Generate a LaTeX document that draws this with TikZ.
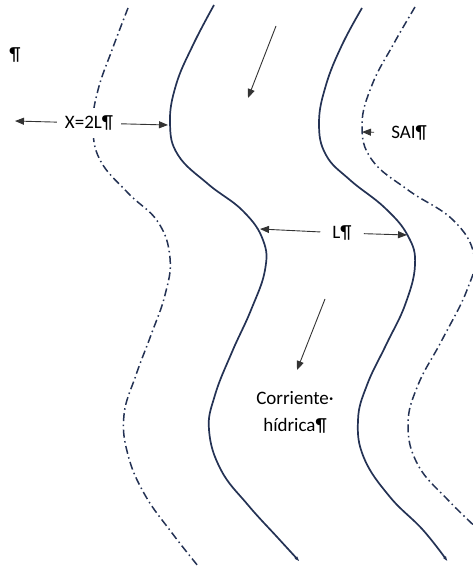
\documentclass[tikz,border=0pt]{standalone}
\usepackage{fontspec}
\setmainfont{Carlito}
\usetikzlibrary{arrows.meta}

\begin{document}
\begin{tikzpicture}[x=1pt,y=-1pt,
	bank/.style={draw=riverblue,line width=1.7pt,-{Latex[length=6pt,width=3.5pt]}},
	sai/.style={draw=riverblue,line width=1.5pt,dash pattern=on 8pt off 3.5pt on 1.5pt off 3.5pt},
	pointer/.style={draw=black!80,line width=0.9pt,-{Triangle[length=9pt,width=7pt]}},
	label/.style={font=\fontsize{19}{27}\selectfont,inner sep=0pt}]
	\definecolor{riverblue}{RGB}{36,50,84}
	\useasboundingbox (0,0) rectangle (472,569);
	% dash-dot outlines
	\draw[sai] plot[smooth,tension=0.7] coordinates {(128,8) (112,50) (98,90) (93,125) (100,160) (128,193) (158,222) (170,258) (165,295) (151,335) (136,375) (124,415) (128,455) (145,495) (172,533) (198,566)};
	\draw[sai] plot[smooth,tension=0.7] coordinates {(415,7) (393,45) (372,85) (362,125) (372,160) (408,190) (453,220) (474,255) (467,290) (442,340) (418,385) (408,425) (418,465) (448,500) (482,533)};
	% river banks
	\draw[bank] plot[smooth,tension=0.7] coordinates {(214,5) (193,45) (176,85) (170,123) (178,155) (208,184) (243,211) (263,240) (265,270) (251,310) (232,352) (215,395) (209,430) (221,470) (248,505) (278,538) (300,562)};
	\draw[bank] plot[smooth,tension=0.7] coordinates {(362,8) (342,45) (326,85) (319,123) (326,155) (350,180) (385,208) (408,236) (415,265) (405,305) (386,345) (367,385) (358,420) (364,458) (390,497) (423,530) (448,562)};
	% texts
	\node (pil)[label] at (15,55) {¶};
	\node (x2l)[label,fill=white,inner sep=8pt] at (89,123) {X=2L¶};
	\node (sai)[label,inner sep=3pt] at (409,133) {SAI¶};
	\node (len)[label,inner sep=12pt] at (342,233) {L¶};
	\node (flow)[label,align=center] at (295,412) {Corriente·\\hídrica¶};
	% arrow ends
	\coordinate (xout) at (15,121);
	\coordinate (xbank) at (168,125);
	\coordinate (saitip) at (362,132);
	\coordinate (lleft) at (260,229);
	\coordinate (lright) at (407,235);
	\coordinate (fa) at (276,26);
	\coordinate (fa') at (248,98);
	\coordinate (fb) at (325,299);
	\coordinate (fb') at (297,370);
	\draw[pointer] (x2l) -- (xout);
	\draw[pointer] (x2l) -- (xbank);
	\draw[pointer,shorten <=14pt] (sai) -- (saitip);
	\draw[pointer] (len) -- (lleft);
	\draw[pointer] (len) -- (lright);
	\draw[pointer] (fa) -- (fa');
	\draw[pointer] (fb) -- (fb');
\end{tikzpicture}
\end{document}
